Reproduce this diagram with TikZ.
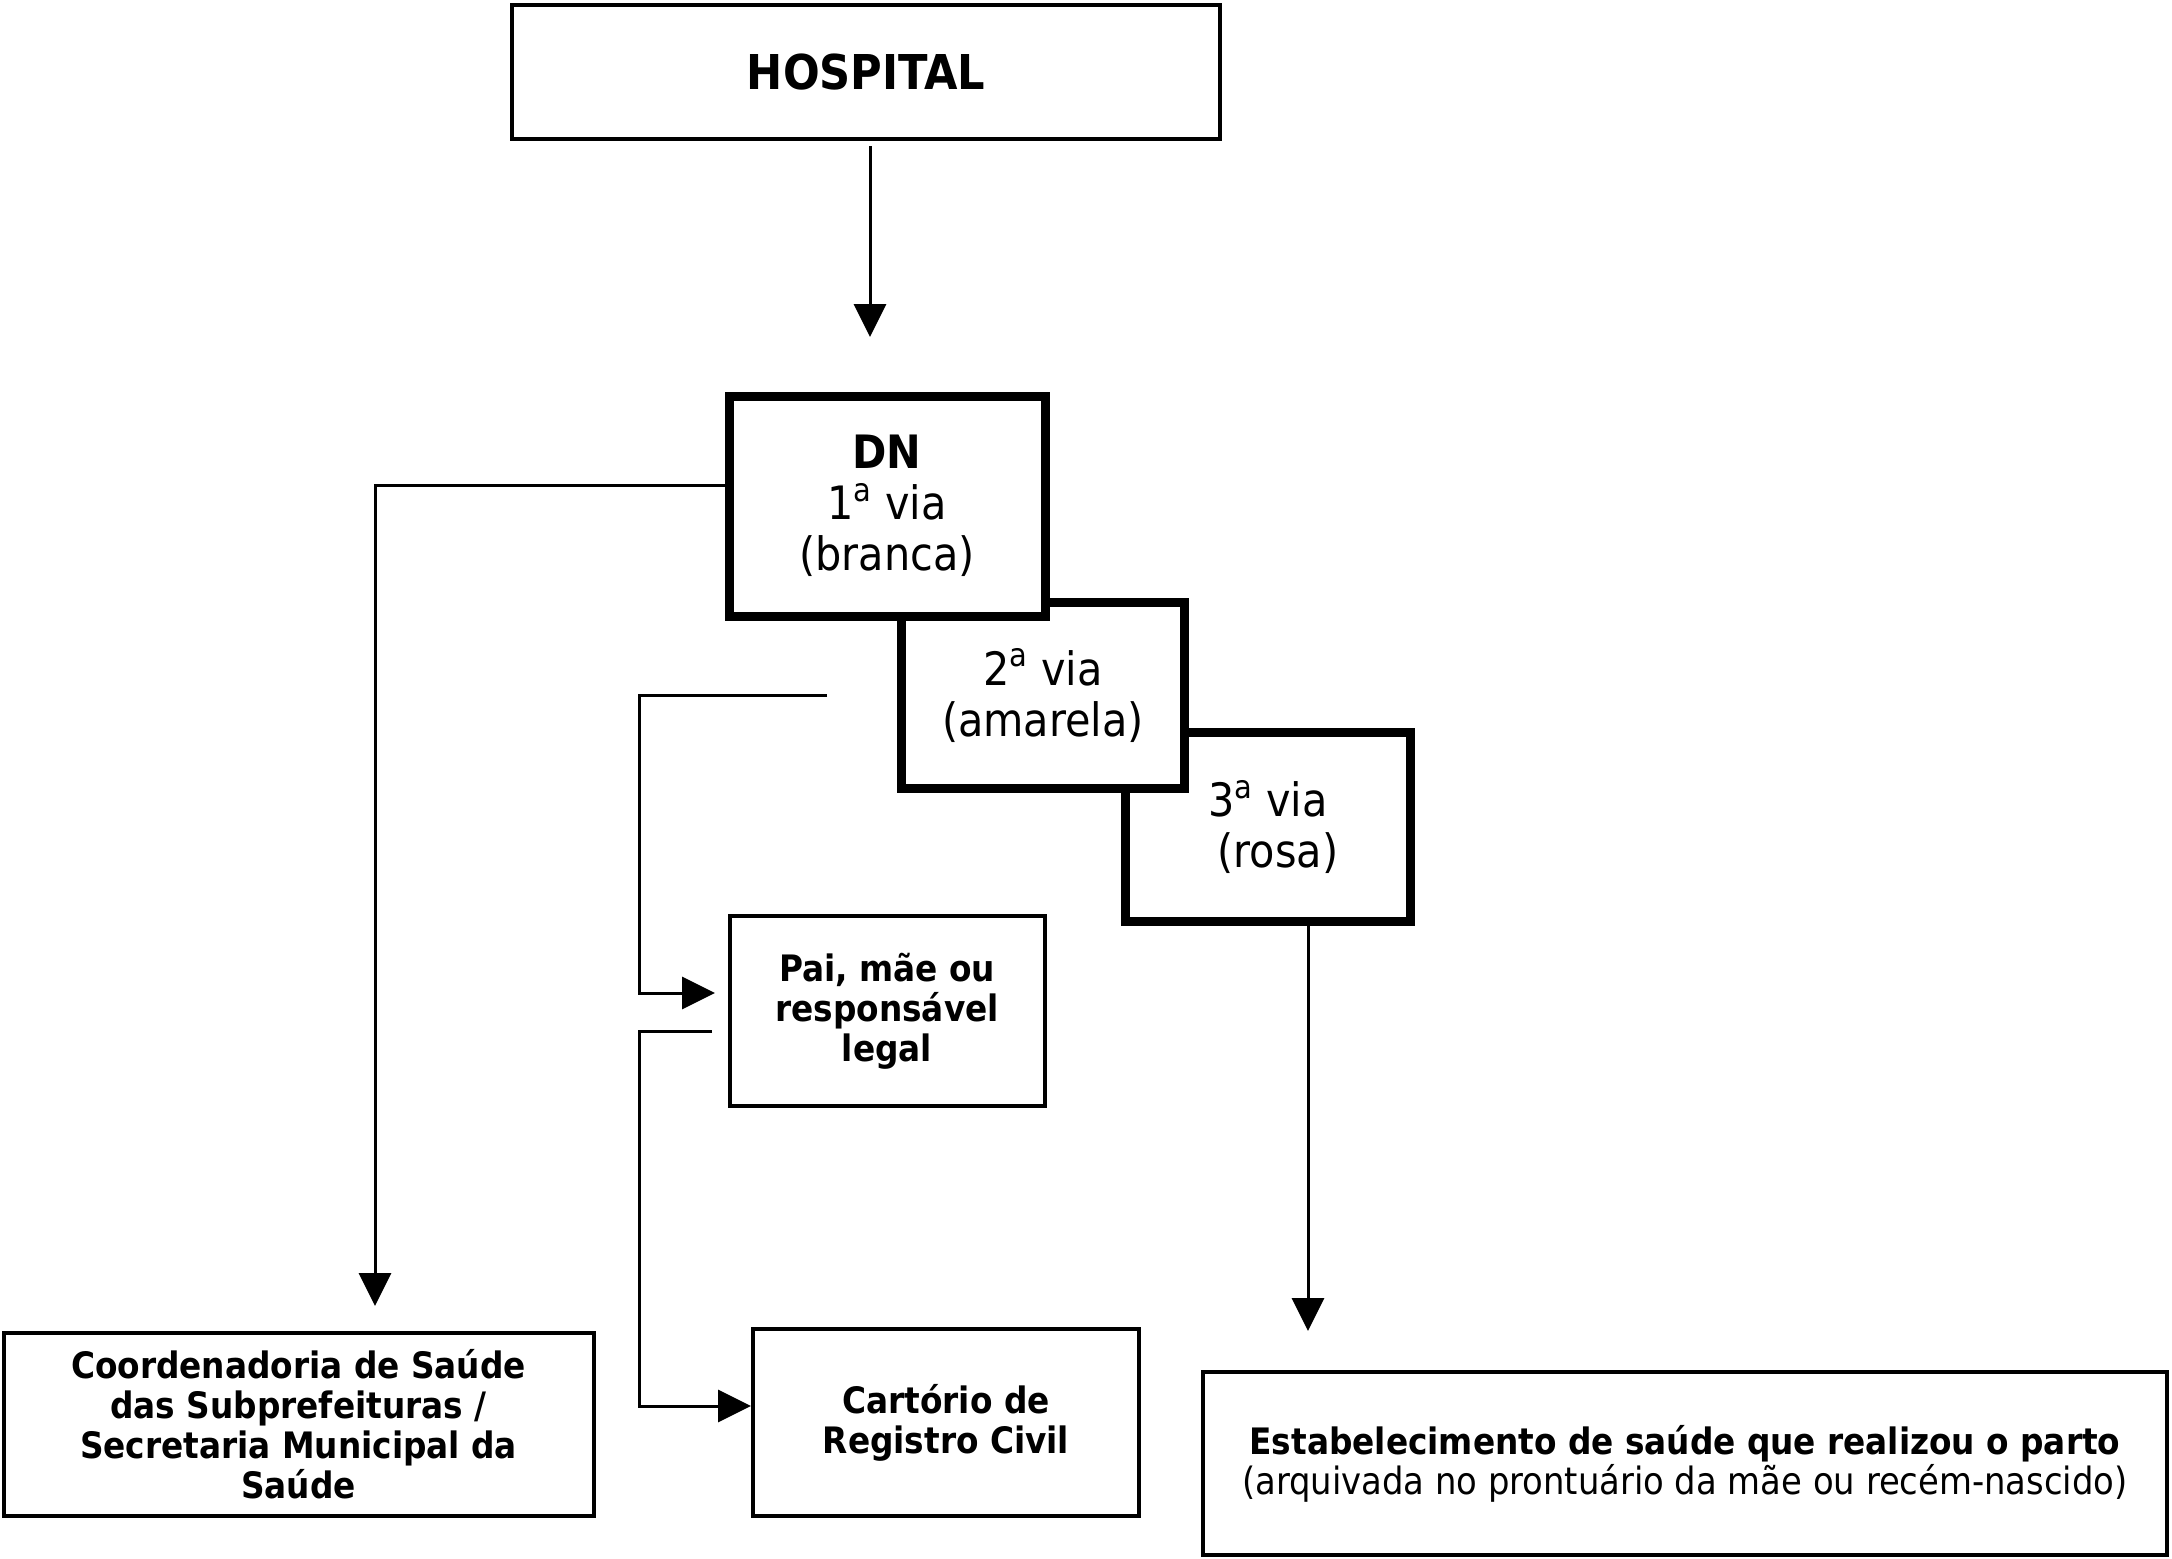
\documentclass[tikz,border=0pt]{standalone}
\usepackage{fontspec}
\setmainfont{DejaVu Sans Condensed}[BoldFont={DejaVu Sans Condensed Bold}]
\usetikzlibrary{arrows.meta}
\begin{document}
\begin{tikzpicture}[x=0.5pt,y=-0.5pt,
  thinbox/.style={draw, line width=2pt, fill=white, inner sep=0pt, align=center, font=\bfseries\fontsize{18.2}{20}\selectfont},
  thickbox/.style={draw, line width=4.5pt, fill=white, inner sep=0pt, align=center, font=\fontsize{23}{25.5}\selectfont},
  conn/.style={line width=1.5pt},
  arr/.style={conn, -{Triangle[length=16.5pt,width=16pt]}}]
\useasboundingbox (0,0) rectangle (2172,1558);
\node[thinbox, minimum width=354pt, minimum height=67pt, font=\bfseries\fontsize{24}{26}\selectfont] (hosp) at (866,72) {HOSPITAL};
\node[thickbox, minimum width=142.5pt, minimum height=94.5pt] (v3) at (1268,827) {3\textsuperscript{a} via\\\hspace*{10pt}(rosa)};
\node[thickbox, minimum width=141.5pt, minimum height=93pt] (v2) at (1043,695.5) {2\textsuperscript{a} via\\(amarela)};
\node[thickbox, minimum width=158pt, minimum height=110pt] (dn) at (887,506) {\textbf{DN}\\1\textsuperscript{a} via\\(branca)};
\node[thinbox, minimum width=157.5pt, minimum height=95pt] (pai) at (887,1011) {Pai, mãe ou\\responsável\\legal};
\node[thinbox, minimum width=295pt, minimum height=91.5pt] (coord) at (298.5,1424.5) {Coordenadoria de Saúde\\das Subprefeituras /\\Secretaria Municipal da\\Saúde};
\node[thinbox, minimum width=193pt, minimum height=93.5pt] (cart) at (946,1422.5) {Cartório de\\Registro Civil};
\node[thinbox, minimum width=482pt, minimum height=91.5pt] (estab) at (1685,1463.5) {Estabelecimento de saúde que realizou o parto\\{\mdseries\fontsize{18.8}{20}\selectfont (arquivada no prontuário da mãe ou recém-nascido)}};
% connectors
\coordinate (t1) at (870,337);
\draw[arr] ([xshift=2pt,yshift=-2.5pt]hosp.south) -- (t1);
\coordinate (t2) at (375,1306);
\draw[arr] ([yshift=10.5pt]dn.west) -| (t2);
\coordinate (s3) at (827,695);
\coordinate (t3) at (715,993);
\draw[arr] (s3) -| ([xshift=-38pt]t3) -- (t3);
\coordinate (s4) at (712,1031);
\coordinate (t4) at ([yshift=8.25pt]cart.west);
\draw[arr] (s4) -| ([xshift=-56pt]t4) -- (t4);
\coordinate (t5) at (1308,1331);
\draw[arr] ([xshift=20pt]v3.south) -- (t5);
\end{tikzpicture}
\end{document}
